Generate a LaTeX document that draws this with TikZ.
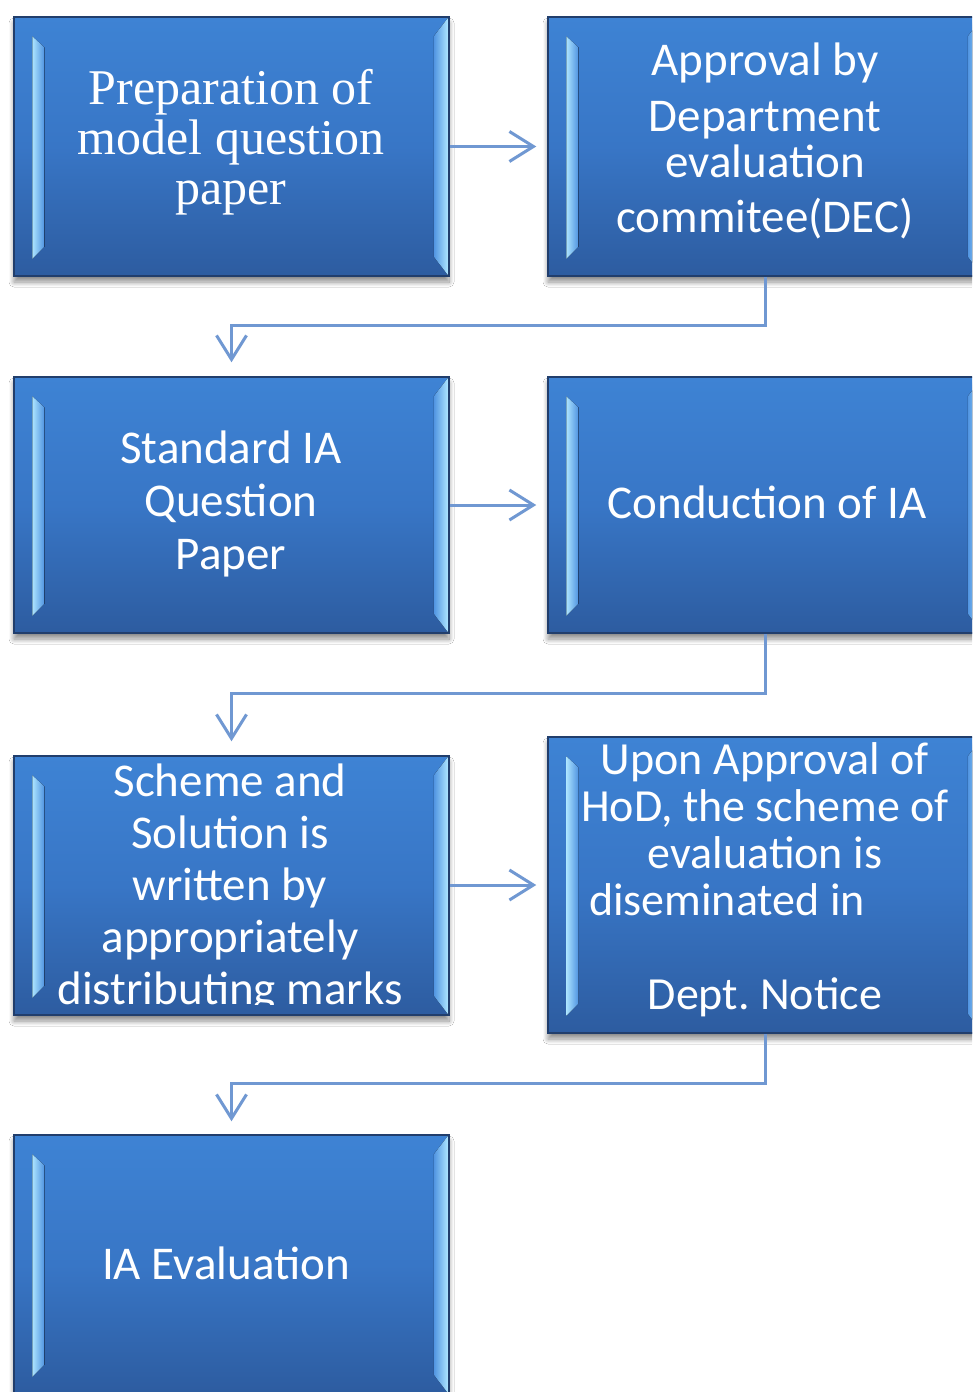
\documentclass[tikz,border=0pt]{standalone}
\usepackage{fontspec}
\setmainfont{Carlito}
\newfontfamily\serifbox{Liberation Serif}
\usetikzlibrary{arrows.meta,calc,shadows.blur}

\definecolor{facetop}{RGB}{62,131,212}
\definecolor{facemid}{RGB}{56,118,198}
\definecolor{facebot}{RGB}{45,92,160}
\definecolor{edgecol}{RGB}{33,62,108}
\definecolor{bevlight}{RGB}{172,228,255}
\definecolor{bevmid}{RGB}{80,148,225}
\definecolor{conncol}{RGB}{112,152,210}

\tikzset{
  boxface/.style={rectangle, draw=edgecol, line width=1.5pt,
    top color=facetop, bottom color=facebot, middle color=facemid,
    minimum width=435pt, inner sep=0pt,
    blur shadow={shadow xshift=0pt, shadow yshift=-6pt, shadow blur steps=10,
      shadow opacity=45, shadow blur radius=5pt}},
  boxtext/.style={text=white, align=center, inner sep=0pt,
    font=\fontsize{47}{53}\selectfont},
  conn/.style={draw=conncol, line width=3pt,
    -{Straight Barb[length=24pt,width=30pt]}}
}

\newcommand\mybevels[1]{%
  \fill[left color=bevlight, right color=bevmid]
    ($(#1.north west)+(19,20)$) -- ($(#1.north west)+(31,31)$) --
    ($(#1.south west)+(31,-30)$) -- ($(#1.south west)+(19,-18)$) -- cycle;
  \fill[left color=bevmid, right color=bevlight]
    ($(#1.north east)+(-16,20)$) -- ($(#1.north east)+(-2,2)$) --
    ($(#1.south east)+(-2,-2)$) -- ($(#1.south east)+(-16,-20)$) -- cycle;
}

\begin{document}
\begin{tikzpicture}[x=1pt,y=-1pt]
\useasboundingbox (0,0) rectangle (972,1392);
\clip (0,0) rectangle (972,1392);
\fill[white] (0,0) rectangle (972,1392);

% boxes
\node[boxface, minimum height=259pt] (b1) at (231.5,146.5) {};
\node[boxface, minimum height=259pt] (b2) at (765.5,146.5) {};
\node[boxface, minimum height=256pt] (b3) at (231.5,505) {};
\node[boxface, minimum height=256pt] (b4) at (765.5,505) {};
\node[boxface, minimum height=259pt] (b5) at (231.5,885.5) {};
\node[boxface, minimum height=296pt] (b6) at (765.5,885) {};
\node[boxface, minimum height=259pt] (b7) at (231.5,1264.5) {};

\mybevels{b1}
\mybevels{b2}
\mybevels{b3}
\mybevels{b4}
\mybevels{b5}
\mybevels{b6}
\mybevels{b7}

% texts
\node[boxtext, font=\serifbox\fontsize{50}{50}\selectfont] (t1) at (231,142)
  {Preparation of\\model question\\paper};
\node[boxtext] (t2) at (765,141)
  {Approval by\\[3pt]Department\\[-7pt]evaluation\\[2pt]commitee(DEC)};
\node[boxtext] (t3) at (231,504) {Standard IA\\Question\\Paper};
\node[boxtext] (t4) at (767,502) {Conduction of IA};
\begin{scope}
  \clip ($(b5.north west)$) rectangle ($(b5.south east)+(0,-11)$);
  \node[boxtext, font=\fontsize{47}{52}\selectfont] (t5) at (230,888)
    {Scheme and\\Solution is\\written by\\appropriately\\distributing marks};
\end{scope}
\node[boxtext, anchor=north, font=\fontsize{46}{47}\selectfont] (t6) at (765,742)
  {Upon Approval of\\HoD, the scheme of\\evaluation is\\\hbox{diseminated in\kern76pt}\\ \\Dept.\ Notice};
\node[boxtext] (t7) at (226,1263) {IA Evaluation};

% connectors
\draw[conn, shorten >=11pt] (b1.east) -- (b2.west);
\draw[conn, shorten >=11pt] (b3.east) -- (b4.west);
\draw[conn, shorten >=11pt] (b5.east |- b6.west) -- (b6.west);
\draw[conn, shorten >=14pt] (b2.south) -- ++(0,49) -| (b3.north);
\draw[conn, shorten >=14pt] (b4.south) -- ++(0,60) -| (b5.north);
\draw[conn, shorten >=13pt] (b6.south) -- ++(0,50) -| (b7.north);
\end{tikzpicture}
\end{document}
